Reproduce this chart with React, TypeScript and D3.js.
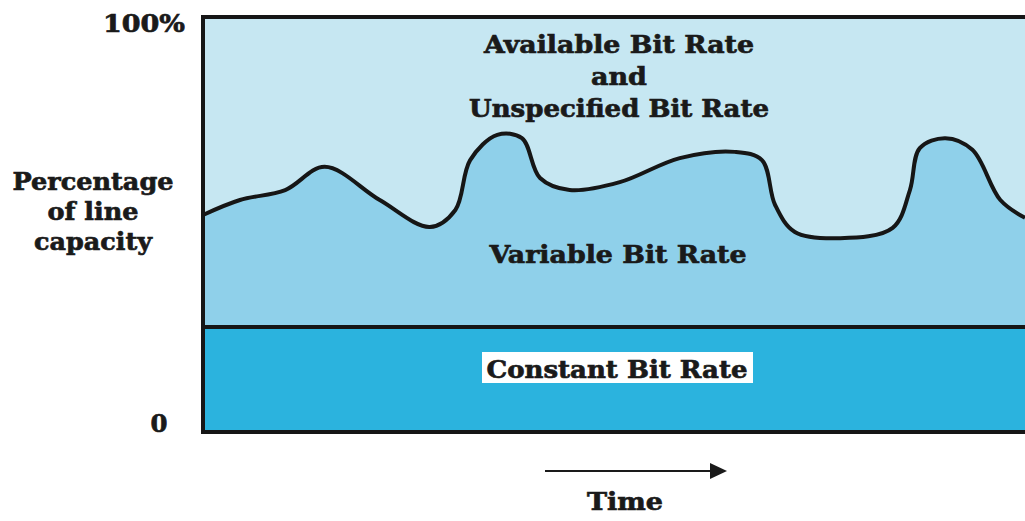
import React from "react";
import * as d3 from "d3";

// Data: time (0..100 arbitrary units) and percentage of line capacity
const timePoints = [0, 4.5, 10.0, 14.8, 21.5, 27.6, 30.7, 32.5, 35.8, 38.8, 41.0, 44.6, 50.7, 58.0, 64.7, 68.0, 69.6, 72.0, 77.5, 83.9, 86.0, 87.2, 90.3, 93.6, 97.0, 100];
const vbrTop = [52.3, 55.9, 58.3, 63.9, 55.9, 49.4, 53.5, 65.5, 71.6, 70.8, 61.2, 58.3, 60.2, 66.0, 67.5, 65.5, 54.7, 48.2, 46.7, 49.2, 58.3, 68.4, 70.8, 68.0, 55.9, 51.6];
const cbrLevel = 25.3;
const yTickLabels = ["0", "100%"];
const yTickValues = [0, 100];
const yAxisTitle = ["Percentage", "of line", "capacity"];
const yAxisTitleWidths = [161, 91, 118];
const abrLabel = ["Available Bit Rate", "and", "Unspecified Bit Rate"];
const abrWidths = [270, 56, 300];
const vbrLabel = "Variable Bit Rate";
const cbrLabel = "Constant Bit Rate";
const xAxisTitle = "Time";

const W = 1025;
const H = 521;
const left = 203;
const right = 1025;
const top = 17;
const bottom = 432;

const FONT = "'DejaVu Serif', 'Liberation Serif', serif";
const INK = "#1a1a1a";

export default function App() {
  const x = d3.scaleLinear().domain([0, 100]).range([left, right]);
  const y = d3.scaleLinear().domain([0, 100]).range([bottom, top]);
  const pts: [number, number][] = timePoints.map((t, i) => [t, vbrTop[i]]);

  const area = d3
    .area<[number, number]>()
    .x((d) => x(d[0]))
    .y0(y(cbrLevel))
    .y1((d) => y(d[1]))
    .curve(d3.curveCatmullRom.alpha(0.5));
  const line = d3
    .line<[number, number]>()
    .x((d) => x(d[0]))
    .y((d) => y(d[1]))
    .curve(d3.curveCatmullRom.alpha(0.5));

  const tProps = {
    textAnchor: "middle" as const,
    fontSize: 25,
    fill: INK,
    stroke: INK,
    strokeWidth: 0.7,
    lengthAdjust: "spacingAndGlyphs" as const,
  };

  return (
    <svg
      width={W}
      height={H}
      style={{ position: "absolute", left: 0, top: 0, display: "block", background: "#fff" }}
      fontFamily={FONT}
      fontWeight="bold"
    >
      {/* ABR/UBR background */}
      <rect x={left} y={top} width={right - left} height={bottom - top} fill="#c6e7f2" />
      {/* VBR area */}
      <path d={area(pts) || ""} fill="#8fd0ea" />
      {/* CBR band */}
      <rect x={left} y={y(cbrLevel)} width={right - left} height={y(0) - y(cbrLevel)} fill="#2bb3de" />
      {/* VBR line */}
      <path d={line(pts) || ""} fill="none" stroke="#161616" strokeWidth={4} />
      {/* CBR boundary */}
      <line x1={left} x2={right} y1={y(cbrLevel)} y2={y(cbrLevel)} stroke="#161616" strokeWidth={4} />
      {/* frame */}
      <path
        d={`M${right},${y(100)} L${left},${y(100)} L${left},${y(0)} L${right},${y(0)}`}
        fill="none"
        stroke="#161616"
        strokeWidth={4}
      />
      {/* y tick labels */}
      <text x={144} y={y(yTickValues[1]) + 15} {...tProps} textLength={82}>
        {yTickLabels[1]}
      </text>
      <text x={159} y={y(yTickValues[0])} {...tProps} textLength={17}>
        {yTickLabels[0]}
      </text>
      {/* y axis title */}
      {yAxisTitle.map((s, i) => (
        <text key={i} x={93} y={190 + i * 30} {...tProps} textLength={yAxisTitleWidths[i]}>
          {s}
        </text>
      ))}
      {/* ABR label */}
      {abrLabel.map((s, i) => (
        <text key={i} x={619} y={53 + i * 32} {...tProps} textLength={abrWidths[i]}>
          {s}
        </text>
      ))}
      <text x={618} y={263} {...tProps} textLength={257}>
        {vbrLabel}
      </text>
      <rect x={482} y={352} width={271} height={31} fill="#ffffff" />
      <text x={617} y={378} {...tProps} textLength={261}>
        {cbrLabel}
      </text>
      {/* time arrow */}
      <line x1={545} x2={712} y1={471} y2={471} stroke={INK} strokeWidth={2} />
      <path d="M710,463 L727,471 L710,479 Z" fill={INK} />
      <text x={625} y={510} {...tProps} textLength={76}>
        {xAxisTitle}
      </text>
    </svg>
  );
}
